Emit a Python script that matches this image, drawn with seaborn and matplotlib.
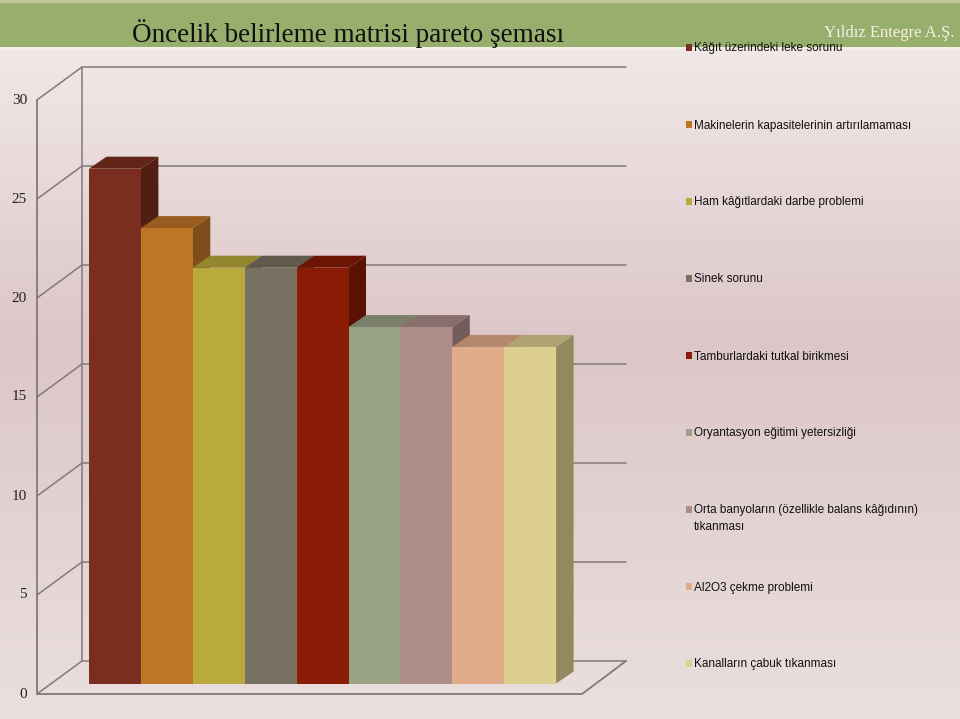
import numpy as np
import matplotlib
matplotlib.use("Agg")
import matplotlib.pyplot as plt
import seaborn as sns
import pandas as pd
from matplotlib.patches import Polygon, Rectangle
from matplotlib.colors import to_rgb

# ---------------- data ----------------
categories = [
    "Kâğıt üzerindeki leke sorunu",
    "Makinelerin kapasitelerinin artırılamaması",
    "Ham kâğıtlardaki darbe problemi",
    "Sinek sorunu",
    "Tamburlardaki tutkal birikmesi",
    "Oryantasyon eğitimi yetersizliği",
    "Orta banyoların (özellikle balans kâğıdının)\ntıkanması",
    "Al2O3 çekme problemi",
    "Kanalların çabuk tıkanması",
]
values = [26, 23, 21, 21, 21, 18, 18, 17, 17]
colors = ["#7B2D1F", "#BF7526", "#BAA93C", "#797262", "#8A1B05",
          "#9AA286", "#AE8C87", "#E2AC8A", "#DDD08F"]
y_ticks = [0, 5, 10, 15, 20, 25, 30]
title = "Öncelik belirleme matrisi pareto şeması"
brand = "Yıldız Entegre A.Ş."

# ---------------- layout constants (pixels) ----------------
W, H = 960, 719
PX_X0 = 89.0      # left edge of first bar front face
BAR_PX = 51.9     # bar pitch
Y0_PX = 683.5     # value 0 on the bar plane
UNIT_PX = 19.8    # pixels per value unit
DEPTH_DX_PX, DEPTH_DY_PX = 17.5, 12.0

def px2x(px):
    return (px - PX_X0) / BAR_PX - 0.5

def px2v(py):
    return (Y0_PX - py) / UNIT_PX

DX = DEPTH_DX_PX / BAR_PX
DY = DEPTH_DY_PX / UNIT_PX

sns.set_style("white")
fig = plt.figure(figsize=(W / 100, H / 100), dpi=100)

# ---------------- background ----------------
bg = fig.add_axes([0, 0, 1, 1], zorder=-10)
rows = np.arange(H)
stops_y = [0, 60, 340, 719]
stops_c = [to_rgb("#F2E8E8"), to_rgb("#F1E7E7"), to_rgb("#DCC6C8"), to_rgb("#EAE0DE")]
grad = np.zeros((H, 1, 3))
for ch in range(3):
    grad[:, 0, ch] = np.interp(rows, stops_y, [c[ch] for c in stops_c])
bg.imshow(grad, aspect="auto", extent=[0, 1, 0, 1], origin="upper")
bg.add_patch(Rectangle((0, 1 - 47 / H), 1, 47 / H, color="#97AE6D", lw=0))
bg.add_patch(Rectangle((0, 1 - 2.5 / H), 1, 2.5 / H, color="#C7C59C", lw=0))
bg.add_patch(Rectangle((0, 1 - 49 / H), 1, 2 / H, color="#F6EFEA", lw=0))
bg.set_xlim(0, 1)
bg.set_ylim(0, 1)
bg.axis("off")

# ---------------- main axes ----------------
xlim = (-2.0, 10.5)
ylim = (-1.7, 32.0)
left_px = PX_X0 + (xlim[0] + 0.5) * BAR_PX
right_px = PX_X0 + (xlim[1] + 0.5) * BAR_PX
bottom_px = Y0_PX - ylim[0] * UNIT_PX
top_px = Y0_PX - ylim[1] * UNIT_PX
ax = fig.add_axes([left_px / W, (H - bottom_px) / H,
                   (right_px - left_px) / W, (bottom_px - top_px) / H])
ax.set_facecolor("none")

df = pd.DataFrame({"kategori": categories, "deger": values})
sns.barplot(data=df, x="kategori", y="deger", hue="kategori", palette=colors,
            saturation=1, width=1.0, legend=False, ax=ax, linewidth=0,
            edgecolor="none", errorbar=None)
for p in ax.patches:
    p.set_zorder(5)

def shade(c, f):
    r, g, b = to_rgb(c)
    return (r * f, g * f, b * f)

for i, (v, c) in enumerate(zip(values, colors)):
    l, r = i - 0.5, i + 0.5
    side = Polygon([(r, 0), (r + DX, DY), (r + DX, v + DY), (r, v)],
                   closed=True, facecolor=shade(c, 0.66), edgecolor="none", zorder=3)
    top = Polygon([(l, v), (r, v), (r + DX, v + DY), (l + DX, v + DY)],
                  closed=True, facecolor=shade(c, 0.79), edgecolor="none", zorder=4)
    ax.add_patch(side)
    ax.add_patch(top)

# walls and floor
grid_c = "#837979"
xf_l, xf_r = px2x(37), px2x(582)
xb_l, xb_r = px2x(82), px2x(626)
vf, vb = px2v(694), px2v(661)
for t in y_ticks:
    ax.plot([xf_l, xb_l, xb_r], [t + vf, t + vb, t + vb], color=grid_c, lw=1.1, zorder=1)
    ax.text(px2x(27), t + vf, str(t), ha="right", va="center",
            family="Liberation Serif", fontsize=11, color="#222222")
ax.plot([xf_l, xf_l], [vf, y_ticks[-1] + vf], color=grid_c, lw=1.3, zorder=1)
ax.plot([xb_l, xb_l], [vb, y_ticks[-1] + vb], color=grid_c, lw=1.1, zorder=1)
ax.plot([xf_l, xf_r, xb_r], [vf, vf, vb], color=grid_c, lw=1.3, zorder=1)

ax.set_xlim(*xlim)
ax.set_ylim(*ylim)
ax.axis("off")

# ---------------- titles ----------------
fig.text(348 / W, 1 - 34 / H, title, ha="center", va="center",
         family="Liberation Serif", fontsize=19.5, color="#111111")
fig.text(955 / W, 1 - 33 / H, brand, ha="right", va="center",
         family="Liberation Serif", fontsize=12, color="#F4F1E4")

# ---------------- legend ----------------
for k, (cat, c) in enumerate(zip(categories, colors)):
    yc = 47.5 + k * 77.0
    fig.add_artist(Rectangle((686 / W, 1 - (yc + 3.2) / H), 6.4 / W, 6.4 / H,
                             transform=fig.transFigure, facecolor=c, edgecolor="none"))
    fig.text(694 / W, 1 - (yc - 5.0) / H, cat, ha="left", va="top",
             family="Liberation Sans", fontsize=8.5, color="#111111", linespacing=1.55)

fig.savefig("out.png", dpi=100)
